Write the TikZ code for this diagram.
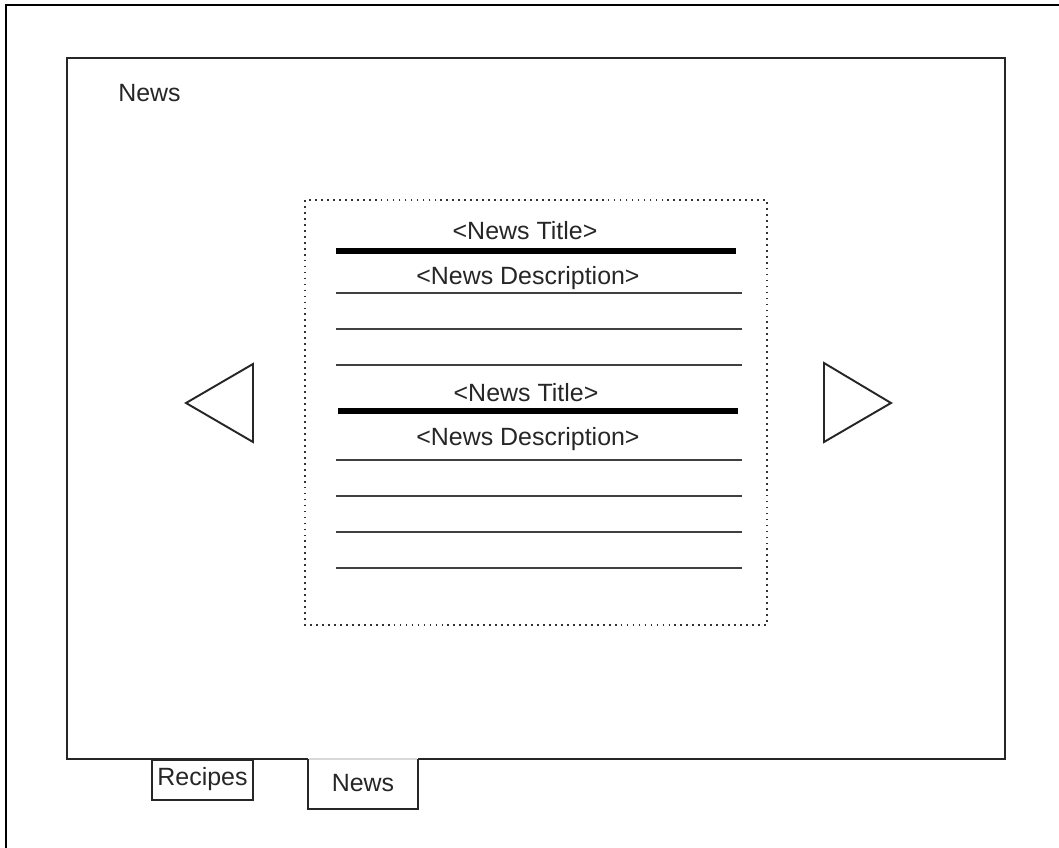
\documentclass[tikz,border=0pt]{standalone}
\usepackage{fontspec}
\setmainfont{Liberation Sans}
\tikzset{
  frame/.style={line width=1.1pt, black!85},
  rule/.style={line width=1.1pt, black!75},
  titlerule/.style={line width=3pt, black},
  label/.style={font=\fontsize{14.2}{17}\selectfont, inner sep=0pt, text=black!85},
}
\begin{document}
\begin{tikzpicture}[x=0.02cm, y=-0.02cm]

    \useasboundingbox (0,0) rectangle (1059,848);

    % outer window
    \draw[line width=1pt] (6,848) -- (6,5) -- (1059,5);

    % screen frame, open below the active tab
    \draw[frame] (308,759) -- (67,759) -- (67,58) -- (1005,58) -- (1005,759) -- (418,759);
    \node[label, anchor=west] (screentitle) at (118,93) {News};

    % tabs
    \draw[frame] (152,760) rectangle (253,800);
    \node[label] (tabrecipes) at (202.5,779) {Recipes};
    \draw[frame] (308,759) -- (308,809) -- (418,809) -- (418,759);
    \draw[black!15, line width=1pt] (309,759) -- (417,759);
    \node[label] (tabnews) at (363,783) {News};

    % news list
    \draw[black!80, line width=1pt, dash pattern=on 1pt off 2.4pt] (305,200) rectangle (767,625);

    \node[label] (titleA) at (525,231) {<News Title>};
    \draw[titlerule] (336,251) -- (736,251);
    \node[label] (descA) at (528,278) {<News Description>};
    \foreach \y in {293,329,365}
      \draw[rule] (336,\y) -- (742,\y);

    \node[label] (titleB) at (526,393) {<News Title>};
    \draw[titlerule] (338,411) -- (738,411);
    \node[label] (descB) at (528,439) {<News Description>};
    \foreach \y in {460,496,532,568}
      \draw[rule] (336,\y) -- (742,\y);

    % arrows
    \draw[frame] (186,403) -- (253,364) -- (253,442) -- cycle;
    \draw[frame] (891,403) -- (824,363) -- (824,442) -- cycle;

  \end{tikzpicture}
\end{document}
